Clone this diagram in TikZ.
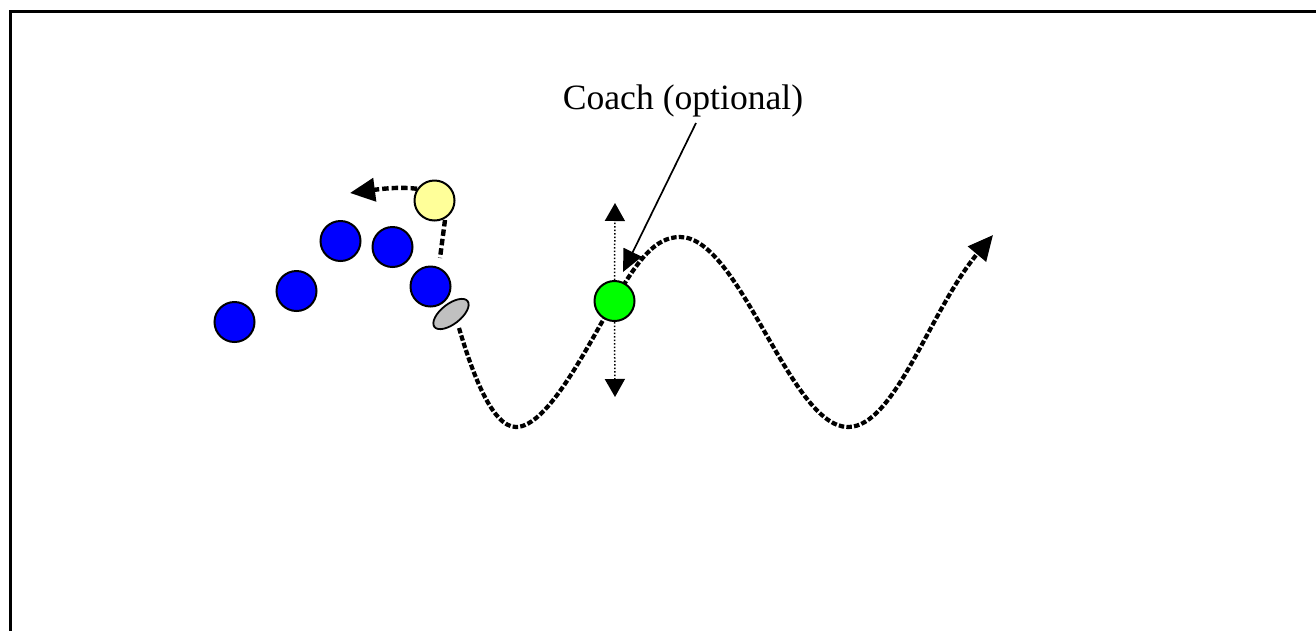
\documentclass[tikz,border=0pt]{standalone}
\usepackage{fontspec}
\setmainfont{Liberation Serif}
\usetikzlibrary{arrows.meta,shapes.geometric}
\definecolor{pblue}{RGB}{0,0,255}
\definecolor{pyellow}{RGB}{255,255,153}
\definecolor{pgreen}{RGB}{0,255,0}
\definecolor{pgray}{RGB}{192,192,192}
\tikzset{
  player/.style={circle, draw=black, line width=2pt, minimum size=40pt, inner sep=0pt},
  bluep/.style={player, fill=pblue},
  runpath/.style={line width=4.2pt, dash pattern=on 5.5pt off 2.2pt, line cap=butt},
  yrun/.style={line width=4.4pt, dash pattern=on 6.5pt off 3pt, line cap=butt},
  bigtip/.style={-{Triangle[length=25pt,width=23pt]}},
  dotarrow/.style={line width=1.5pt, dotted, -{Triangle[length=18pt,width=20pt]}},
}
\begin{document}
\begin{tikzpicture}[x=1pt,y=-1pt]
\useasboundingbox (0,0) rectangle (1316,630);
% border
\draw[line width=3.4pt] (10.6,640) -- (10.6,11.6) -- (1330,11.6);

% players
\node[bluep] (b1) at (234.5,322) {};
\node[bluep] (b2) at (296.5,291) {};
\node[bluep] (b3) at (340.5,241) {};
\node[bluep] (b4) at (392.5,247) {};
\node[bluep] (b5) at (430.5,286.5) {};
\node[player, fill=pyellow] (y) at (434.5,200.5) {};
\node[ellipse, draw=black, line width=1.8pt, fill=pgray, minimum width=42pt, minimum height=20pt, inner sep=0pt, rotate=38] (ball) at (451,314) {};
\coordinate (ytip) at (350,193);
\coordinate (ys) at (445,220);
\coordinate (b5top) at (440,258);

% yellow runs
\draw[yrun] (ys) -- (b5top);
\draw[yrun, bigtip] (y.146) .. controls (402,187) and (388,188) .. (ytip);

% wave
\coordinate (w0) at (459,328);
\coordinate (wend) at (993,235);
\draw[runpath, bigtip]
  (w0) .. controls (472,372) and (492,427) .. (516,427)
  .. controls (548,427) and (588,345) .. (614,301)
  .. controls (638,260) and (655,237) .. (680,237)
  .. controls (740,237) and (790,427) .. (848,427)
  .. controls (895,427) and (930,310) .. (wend);

% coach
\node[player, fill=pgreen] (g) at (614.5,301) {};
\coordinate (gtop) at (615,203);
\coordinate (gbot) at (615,397);
\draw[dotarrow] (g.north) -- (gtop);
\draw[dotarrow] (g.south) -- (gbot);

\node[anchor=base, inner sep=0pt, font=\fontsize{35.6pt}{40pt}\selectfont] (coach) at (683,109) {Coach (optional)};
\coordinate (cs) at (696,123);
\coordinate (ctip) at (623,272);
\draw[line width=1.7pt, -{Triangle[length=22pt,width=20pt]}] (cs) -- (ctip);
\end{tikzpicture}
\end{document}
